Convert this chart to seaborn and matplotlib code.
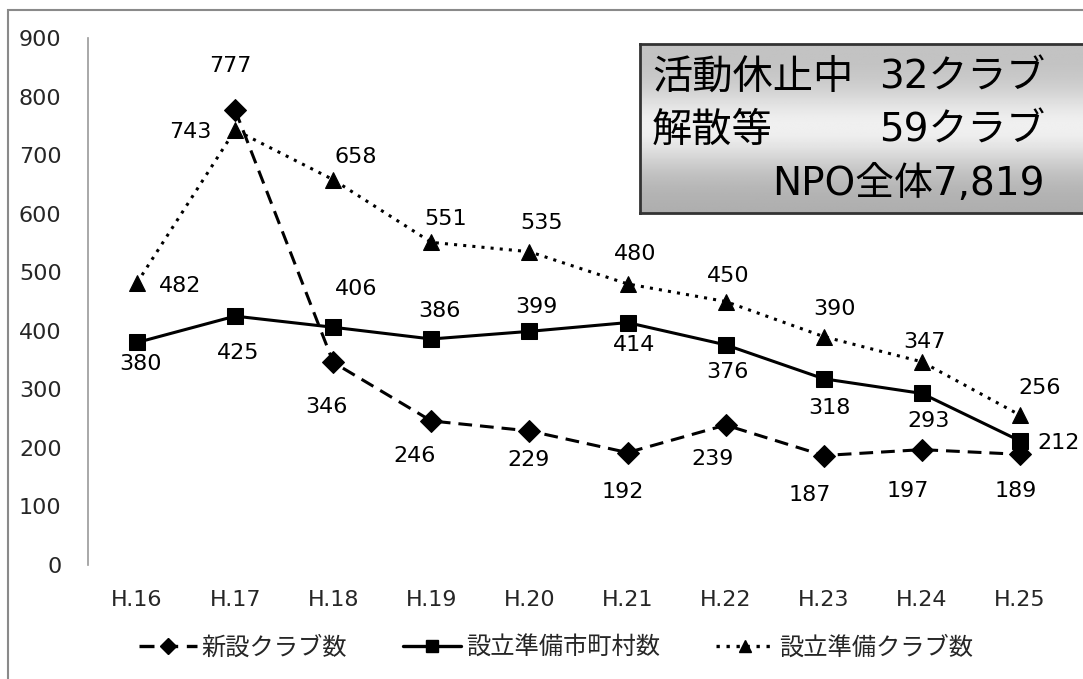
import numpy as np
import pandas as pd
import matplotlib
matplotlib.use("Agg")
import matplotlib.pyplot as plt
from matplotlib.lines import Line2D
from matplotlib.patches import Rectangle
import seaborn as sns

# データ
years = ["H.16", "H.17", "H.18", "H.19", "H.20", "H.21", "H.22", "H.23", "H.24", "H.25"]
new_clubs = [np.nan, 777, 346, 246, 229, 192, 239, 187, 197, 189]
prep_towns = [380, 425, 406, 386, 399, 414, 376, 318, 293, 212]
prep_clubs = [482, 743, 658, 551, 535, 480, 450, 390, 347, 256]
series_names = ["新設クラブ数", "設立準備市町村数", "設立準備クラブ数"]
box_lines = [("活動休止中", "32クラブ"), ("解散等", "59クラブ"), ("", "NPO全体7,819")]

# ラベル位置 (ピクセル, 右/下が正)
off_new = [None, (-5, -44), (-7, 45), (-17, 35), (-1, 29), (-5, 39), (-13, 34), (-14, 39), (-14, 41), (-4, 37)]
off_towns = [(3, 22), (3, 37), (23, -38), (8, -28), (7, -24), (7, 22), (2, 27), (6, 29), (7, 28), (39, 2)]
off_clubs = [(43, 3), (-45, 2), (22, -23), (14, -23), (12, -29), (8, -30), (3, -25), (11, -28), (3, -20), (20, -27)]

sns.set_theme(style="white")
plt.rcParams["font.family"] = ["DejaVu Sans", "Noto Sans CJK JP"]

W, H = 1083, 679
fig = plt.figure(figsize=(W / 100, H / 100), dpi=100)
ax = fig.add_axes([88 / W, 1 - 565 / H, (1069 - 88) / W, (565 - 38) / H])

df = pd.DataFrame({"x": range(len(years)), "new": new_clubs,
                   "towns": prep_towns, "clubs": prep_clubs})

styles = [
    ("new", "D", (0, (4.5, 2.6)), 11.5),
    ("towns", "s", "-", 11.5),
    ("clubs", "^", (0, (1, 2)), 12),
]
for col, mk, ls, ms in styles:
    sns.lineplot(data=df, x="x", y=col, ax=ax, color="black", marker=mk,
                 markersize=ms, markeredgecolor="black", linewidth=2.2,
                 linestyle=ls, legend=False)

k = 72 / 100
for col, offs in [("new", off_new), ("towns", off_towns), ("clubs", off_clubs)]:
    for i, v in enumerate(df[col]):
        if np.isnan(v) or offs[i] is None:
            continue
        dx, dy = offs[i]
        ax.annotate(f"{int(v)}", (i, v), xytext=(dx * k, -dy * k),
                    textcoords="offset points", ha="center", va="center",
                    fontsize=16, color="black")

ax.set_xlim(-0.5, len(years) - 0.5)
ax.set_ylim(0, 900)
ax.set_yticks(range(0, 901, 100))
ax.set_xticks(range(len(years)))
ax.set_xticklabels(years)
ax.set_xlabel("")
ax.set_ylabel("")
ax.tick_params(axis="y", labelsize=16, pad=19, length=0)
ax.tick_params(axis="x", labelsize=16, pad=18, length=0)
for s in ["top", "right", "bottom"]:
    ax.spines[s].set_visible(False)
ax.spines["left"].set_color("#999999")
ax.spines["left"].set_linewidth(1.2)

# 凡例
handles = [Line2D([], [], color="black", marker=mk, markersize=ms * 0.75, linestyle=ls, linewidth=2.4)
           for _, mk, ls, ms in styles]
fig.legend(handles, series_names, loc="center", ncol=3, frameon=False,
           bbox_to_anchor=(556 / W, 1 - 648 / H), fontsize=17.5,
           handlelength=2.4, handletextpad=0.2, columnspacing=2.3)

# 外枠
fig.patches.append(Rectangle((8 / W, -0.1), 1.2, 1 - 10 / H + 0.1, transform=fig.transFigure,
                             fill=False, edgecolor="#8a8a8a", linewidth=1.5))

# 注記ボックス
bx0, by0, by1 = 640, 44, 213
box = fig.add_axes([bx0 / W, 1 - by1 / H, (W - bx0 + 20) / W, (by1 - by0) / H])
t = np.linspace(0, 1, 200)
shade = 0.76 + 0.22 * np.exp(-((t - 0.5) / 0.24) ** 2) - 0.08 * t
grad = np.tile(shade[:, None], (1, 2))
box.imshow(grad, cmap="gray", vmin=0, vmax=1, aspect="auto", extent=(0, 1, 1, 0))
box.set_xlim(0, 1)
box.set_ylim(1, 0)
box.set_xticks([])
box.set_yticks([])
for s in box.spines.values():
    s.set_color("#333333")
    s.set_linewidth(2)
box_w = W - bx0 + 20
for j, (left, right) in enumerate(box_lines):
    yy = 1 - (78 + 53 * j - by0) / (by1 - by0)
    if left:
        box.text((652 - bx0) / box_w, yy, left, transform=box.transAxes,
                 ha="left", va="center", fontsize=29, color="black")
    box.text((1045 - bx0) / box_w, yy, right, transform=box.transAxes,
             ha="right", va="center", fontsize=28, color="black")

fig.savefig("out.png", dpi=100, facecolor="white")
